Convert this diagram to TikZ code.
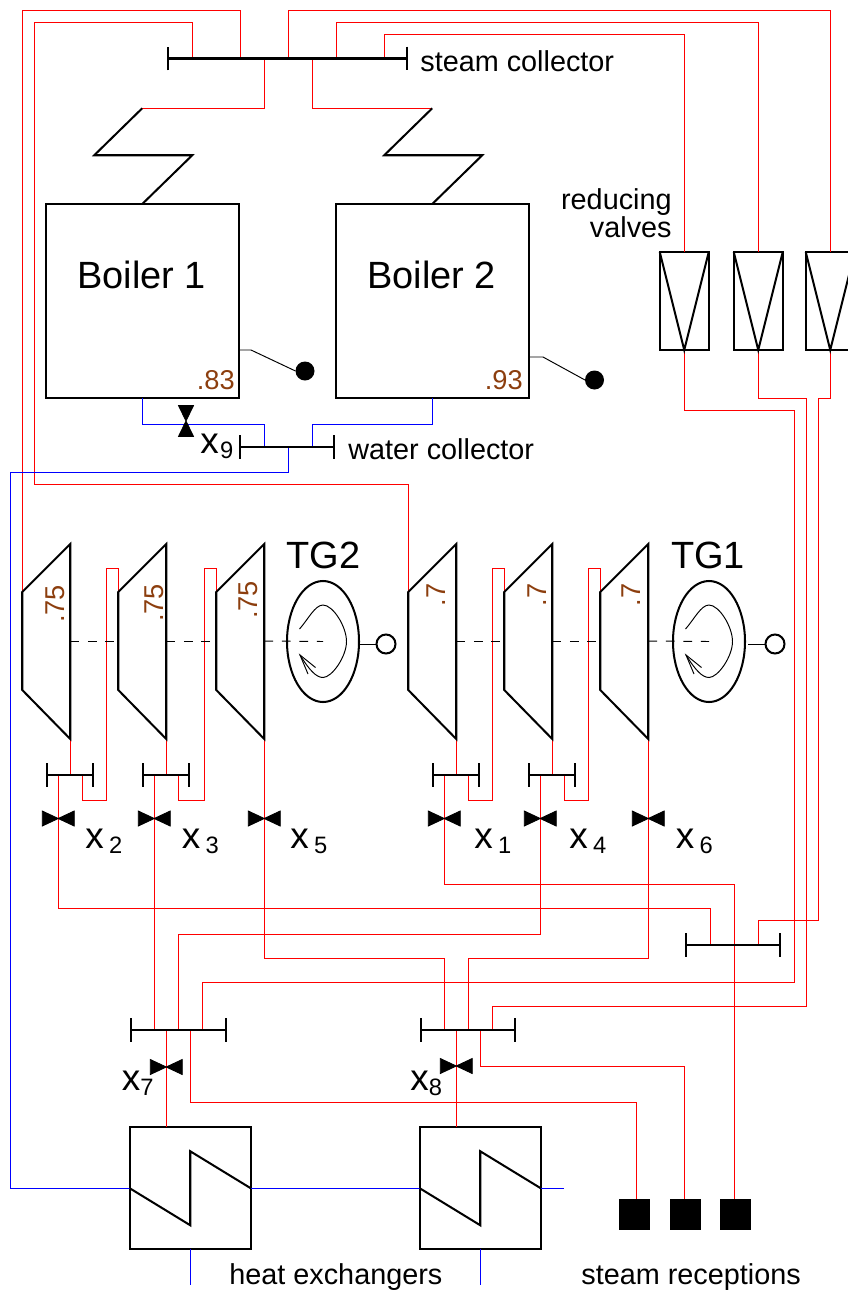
\documentclass[tikz,border=0pt]{standalone}
\usepackage{fontspec}
\setmainfont{Liberation Sans}
\usepackage{tikz}
\usetikzlibrary{arrows.meta,shapes.geometric}

\def\px{0.02cm}
\definecolor{effbrown}{RGB}{140,62,14}
\newcommand{\labelx}[2]{x\kern#1\raisebox{-3.4pt}{\fontsize{13.5}{14}\selectfont #2}}

\tikzset{
	steam/.style={red,line width=0.65pt},
	water/.style={blue,line width=0.65pt},
	machine/.style={black,line width=1.15pt,line join=miter},
	thinline/.style={black,line width=0.55pt},
	shaft/.style={black,line width=0.55pt,dash pattern=on 5pt off 5pt},
	bus/.style={machine,{Bar[width=13.6pt,line width=1.15pt]}-{Bar[width=13.6pt,line width=1.15pt]}},
	box/.style={machine,draw,rectangle,inner sep=0pt,outer sep=0pt},
	reducer/.style={box,minimum width=49*\px,minimum height=98*\px},
	exchanger/.style={box,minimum width=121*\px,minimum height=122*\px},
	reception/.style={fill=black,rectangle,inner sep=0pt,outer sep=0pt,minimum size=31*\px},
	sensor/.style={fill=black,circle,inner sep=0pt,outer sep=0pt,minimum size=19*\px},
	ring/.style={machine,draw,circle,inner sep=0pt,outer sep=0pt,minimum size=19*\px},
	smalltext/.style={inner sep=0pt,anchor=base west,font=\fontsize{16.4}{15.5}\selectfont},
	bigtext/.style={inner sep=0pt,anchor=base,font=\fontsize{21.6}{24}\selectfont},
	eff/.style={inner sep=0pt,text=effbrown,font=\fontsize{15.5}{18}\selectfont},
	valvetext/.style={inner sep=0pt,anchor=base west,font=\fontsize{21}{24}\selectfont},
	hvalve/.pic={\filldraw[black,line width=0.5pt] (-16,-7.5) -- (16,7.5) -- (16,-7.5) -- (-16,7.5) -- cycle;},
	vvalve/.pic={\filldraw[black,line width=0.5pt] (-7.5,-15.5) -- (7.5,15.5) -- (-7.5,15.5) -- (7.5,-15.5) -- cycle;},
	rotor/.pic={
		\draw[thinline] (-23.5,-12.5) .. controls (-15,-22) and (-8,-36.5) .. (0,-36.5)
			.. controls (10,-36.5) and (23.5,-15) .. (23.5,0)
			.. controls (23.5,15) and (9,36) .. (0,36)
			.. controls (-7,36) and (-14,28) .. (-23,13.5);
		\draw[thinline] (-7.5,26) -- (-23,13.5) -- (-15,32.5);
	}
}

\begin{document}
\begin{tikzpicture}[x=\px,y=-\px]
	\useasboundingbox (0,0) rectangle (848,1292);

	% collectors
	\coordinate (scL) at (167,58.5);
	\coordinate (scR) at (408,58.5);
	\foreach \nm/\xx in {a/192.25,b/240.25,c/264.25,d/288.25,e/312.25,f/336.25,g/384.25}
		\coordinate (sc\nm) at (\xx,58.5);
	\coordinate (wcL) at (239,447);
	\coordinate (wcR) at (335,447);
	\foreach \nm/\xx in {a/264.25,b/288.25,c/312.25}
		\coordinate (wc\nm) at (\xx,447);
	\foreach \nm/\xl in {1/46.25,2/142.25,4/432.25,5/528.25}{
		\coordinate (b\nm L) at (\xl,775);
		\coordinate (b\nm R) at (\xl+48,775);
		\coordinate (b\nm a) at (\xl+12,775);
		\coordinate (b\nm c) at (\xl+24,775);
		\coordinate (b\nm e) at (\xl+36,775);
	}
	\coordinate (b7L) at (130,1030);
	\coordinate (b7R) at (227,1030);
	\foreach \nm/\xx in {a/154.25,b/166.25,c/178.25,d/190.25,e/202.25}
		\coordinate (b7\nm) at (\xx,1030);
	\coordinate (b8L) at (419.5,1030);
	\coordinate (b8R) at (516,1030);
	\foreach \nm/\xx in {a/444.25,b/456.25,c/468.25,d/480.25,e/492.25}
		\coordinate (b8\nm) at (\xx,1030);
	\coordinate (b9L) at (685,945);
	\coordinate (b9R) at (781,945);
	\coordinate (b9a) at (710.25,945);
	\coordinate (b9b) at (758.25,945);

	% turbines
	\foreach \nm/\xl in {1/22.25,2/118.25,3/216.25,4/408.25,5/504.25,6/600.25}{
		\coordinate (t\nm in) at (\xl,592);
		\coordinate (t\nm out) at (\xl+48,739);
		\coordinate (s\nm) at (\xl,641);
		\coordinate (s\nm r) at (\xl+48,641);
	}

	% valve places
	\foreach \nm/\xx in {1/444.25,2/58.25,3/154.25,4/540.25,5/264.25,6/648.25}
		\coordinate (v\nm) at (\xx,818.5);
	\coordinate (v7) at (166.25,1067);
	\coordinate (v8) at (456.25,1066);
	\coordinate (v9) at (186,421);

	\node[box,minimum width=193*\px,minimum height=194*\px] (boiler1) at (142.25,301) {};
	\node[box,minimum width=193*\px,minimum height=194*\px] (boiler2) at (432.25,301) {};
	\coordinate (coil1) at (142.25,108.25);
	\coordinate (coil2) at (432.25,108.25);
	\node[reducer] (rv1) at (684.25,301) {};
	\node[reducer] (rv2) at (758.25,301) {};
	\node[reducer] (rv3) at (830.25,301) {};
	\node[exchanger] (hx1) at (190.25,1188.25) {};
	\node[exchanger] (hx2) at (480.25,1188.25) {};
	\node[reception] (rec1) at (634.5,1214.5) {};
	\node[reception] (rec2) at (685,1214.5) {};
	\node[reception] (rec3) at (735.5,1214.5) {};
	\coordinate (rec1in) at (636.25,1199);
	\coordinate (rec2in) at (684.25,1199);
	\coordinate (rec3in) at (734.25,1199);
	\node[sensor] (dot1) at (305,371) {};
	\node[sensor] (dot2) at (594.5,380) {};
	\node[machine,draw,ellipse,inner sep=0pt,outer sep=0pt,minimum width=72*\px,minimum height=121*\px] (gen2) at (323,641.5) {};
	\node[machine,draw,ellipse,inner sep=0pt,outer sep=0pt,minimum width=72*\px,minimum height=121*\px] (gen1) at (709,641.5) {};
	\node[ring] (ring2) at (386,644) {};
	\node[ring] (ring1) at (775,644) {};

	% steam
	\draw[steam] (scb) |- (22.25,10.25) -- (t1in);
	\draw[steam] (sca) |- (34.25,22.25) -- (34.25,484.25) -| (t4in);
	\draw[steam] (scd) |- (830.25,10.25) -- (rv3.north);
	\draw[steam] (scf) |- (758.25,22.25) -- (rv2.north);
	\draw[steam] (scg) |- (684.25,34.25) -- (rv1.north);
	\draw[steam] (scc) |- (coil1);
	\draw[steam] (sce) |- (coil2);
	\draw[steam] (t1out) -- (b1c);
	\draw[steam] (t2out) -- (b2c);
	\draw[steam] (t4out) -- (b4c);
	\draw[steam] (t5out) -- (b5c);
	\draw[steam] (b1e) |- (106.25,800.25) -- (106.25,568.25) -| (t2in);
	\draw[steam] (b2e) |- (204.25,800.25) -- (204.25,568.25) -| (t3in);
	\draw[steam] (b4e) |- (492.25,800.25) -- (492.25,568.25) -| (t5in);
	\draw[steam] (b5e) |- (588.25,800.25) -- (588.25,568.25) -| (t6in);
	\draw[steam] (b1a) -- (v2) |- (710.25,908.25) -- (b9a);
	\draw[steam] (b2a) -- (v3) -- (b7a);
	\draw[steam] (t3out) -- (v5) |- (444.25,958.25) -- (b8a);
	\draw[steam] (b4a) -- (v1) |- (734.25,884.25) -- (rec3in);
	\draw[steam] (b5a) -- (v4) |- (178.25,934.25) -- (b7c);
	\draw[steam] (t6out) -- (v6) |- (468.25,958.25) -- (b8c);
	\draw[steam] (b7e) |- (794.25,982.25) -- (794.25,410.25) -| (rv1.south);
	\draw[steam] (b8e) |- (806.25,1006.25) -- (806.25,398.25) -| (rv2.south);
	\draw[steam] (b9b) |- (818.25,920.25) -- (818.25,398.25) -| (rv3.south);
	\draw[steam] (b7b) -- (v7) -- (hx1.north -| v7);
	\draw[steam] (b8b) -- (v8) -- (hx2.north -| v8);
	\draw[steam] (b7d) |- (636.25,1102.25) -- (rec1in);
	\draw[steam] (b8d) |- (684.25,1066.25) -- (rec2in);

	% water
	\draw[water] (boiler1.south) |- (264.25,424.25) -- (wca);
	\draw[water] (boiler2.south) |- (312.25,424.25) -- (wcc);
	\draw[water] (wcb) |- (10.25,472.25) |- (hx1.west);
	\draw[water] (hx1.east) -- (hx2.west);
	\draw[water] (hx2.east) -- (564,1188.25);
	\draw[water] (hx1.south) -- (190.25,1285);
	\draw[water] (hx2.south) -- (480.25,1285);

	% black parts
	\draw[bus] (scL) -- (scR);
	\draw[bus] (wcL) -- (wcR);
	\foreach \nm in {1,2,4,5,7,8,9}
		\draw[bus] (b\nm L) -- (b\nm R);
	\draw[machine] (coil1) -- ++(-48,47) -- ++(98,0) -- (boiler1.north);
	\draw[machine] (coil2) -- ++(-48,47) -- ++(98,0) -- (boiler2.north);
	\foreach \nm in {1,2,3,4,5,6}
		\draw[machine] (t\nm in) -- ++(48,-48) -- (t\nm out) -- ++(-48,-49) -- cycle;
	\foreach \nm in {1,2,3}
		\draw[machine] (rv\nm.north west) -- (rv\nm.south) -- (rv\nm.north east);
	\foreach \nm in {1,2}
		\draw[machine] (hx\nm.west) -- ++(60.5,37) -- ++(0,-74) -- (hx\nm.east);
	\draw[shaft] (s1r) -- (s2);
	\draw[shaft] (s2r) -- (s3);
	\draw[shaft] (s3r) -- (gen2.center);
	\draw[shaft] (s4r) -- (s5);
	\draw[shaft] (s5r) -- (s6);
	\draw[shaft] (s6r) -- (gen1.center);
	\pic at (gen2.center) {rotor};
	\pic at (gen1.center) {rotor};
	\draw[thinline] (359,644) -- (ring2.west);
	\draw[thinline] (748,644) -- (ring1.west);
	\draw[thinline] (239.5,350) -- (251,350) -- (dot1.west);
	\draw[thinline] (529,357) -- (543,357) -- (dot2.west);
	\foreach \nm in {1,2,3,4,5,6,7,8}
		\pic at (v\nm) {hvalve};
	\pic at (v9) {vvalve};

	% texts
	\node[bigtext] (boilerlab1) at (141.5,288) {Boiler 1};
	\node[bigtext] (boilerlab2) at (431.5,288) {Boiler 2};
	\node[bigtext] (tglab2) at (323.5,568) {TG2};
	\node[bigtext] (tglab1) at (708,568) {TG1};
	\node[eff,anchor=base east] (eff1) at (235,389) {.83};
	\node[eff,anchor=base east] (eff2) at (523,389) {.93};
	\node[eff,rotate=90] (eff3) at (55,604) {.75};
	\node[eff,rotate=90] (eff4) at (154,603) {.75};
	\node[eff,rotate=90] (eff5) at (248,600) {.75};
	\node[eff,rotate=90] (eff6) at (436,595) {.7};
	\node[eff,rotate=90] (eff7) at (537,595) {.7};
	\node[eff,rotate=90] (eff8) at (631,595) {.7};
	\node[smalltext] (steamlab) at (420,71) {steam collector};
	\node[smalltext] (waterlab) at (348,459) {water collector};
	\node[smalltext,align=right,anchor=base east] (reducelab) at (672,237) {reducing\\valves};
	\node[smalltext] (heatlab) at (229,1284) {heat exchangers};
	\node[smalltext] (receptlab) at (581,1284) {steam receptions};
	\node[valvetext] (xlab2) at (85,848) {\labelx{3pt}{2}};
	\node[valvetext] (xlab3) at (181.5,848) {\labelx{3pt}{3}};
	\node[valvetext] (xlab5) at (290,848) {\labelx{3pt}{5}};
	\node[valvetext] (xlab1) at (474,848) {\labelx{3pt}{1}};
	\node[valvetext] (xlab4) at (569,848) {\labelx{3pt}{4}};
	\node[valvetext] (xlab6) at (675.5,848) {\labelx{3pt}{6}};
	\node[valvetext] (xlab7) at (121.5,1090) {\labelx{0pt}{7}};
	\node[valvetext] (xlab8) at (410,1090) {\labelx{0pt}{8}};
	\node[valvetext] (xlab9) at (200,453) {\labelx{0.8pt}{9}};
\end{tikzpicture}
\end{document}
